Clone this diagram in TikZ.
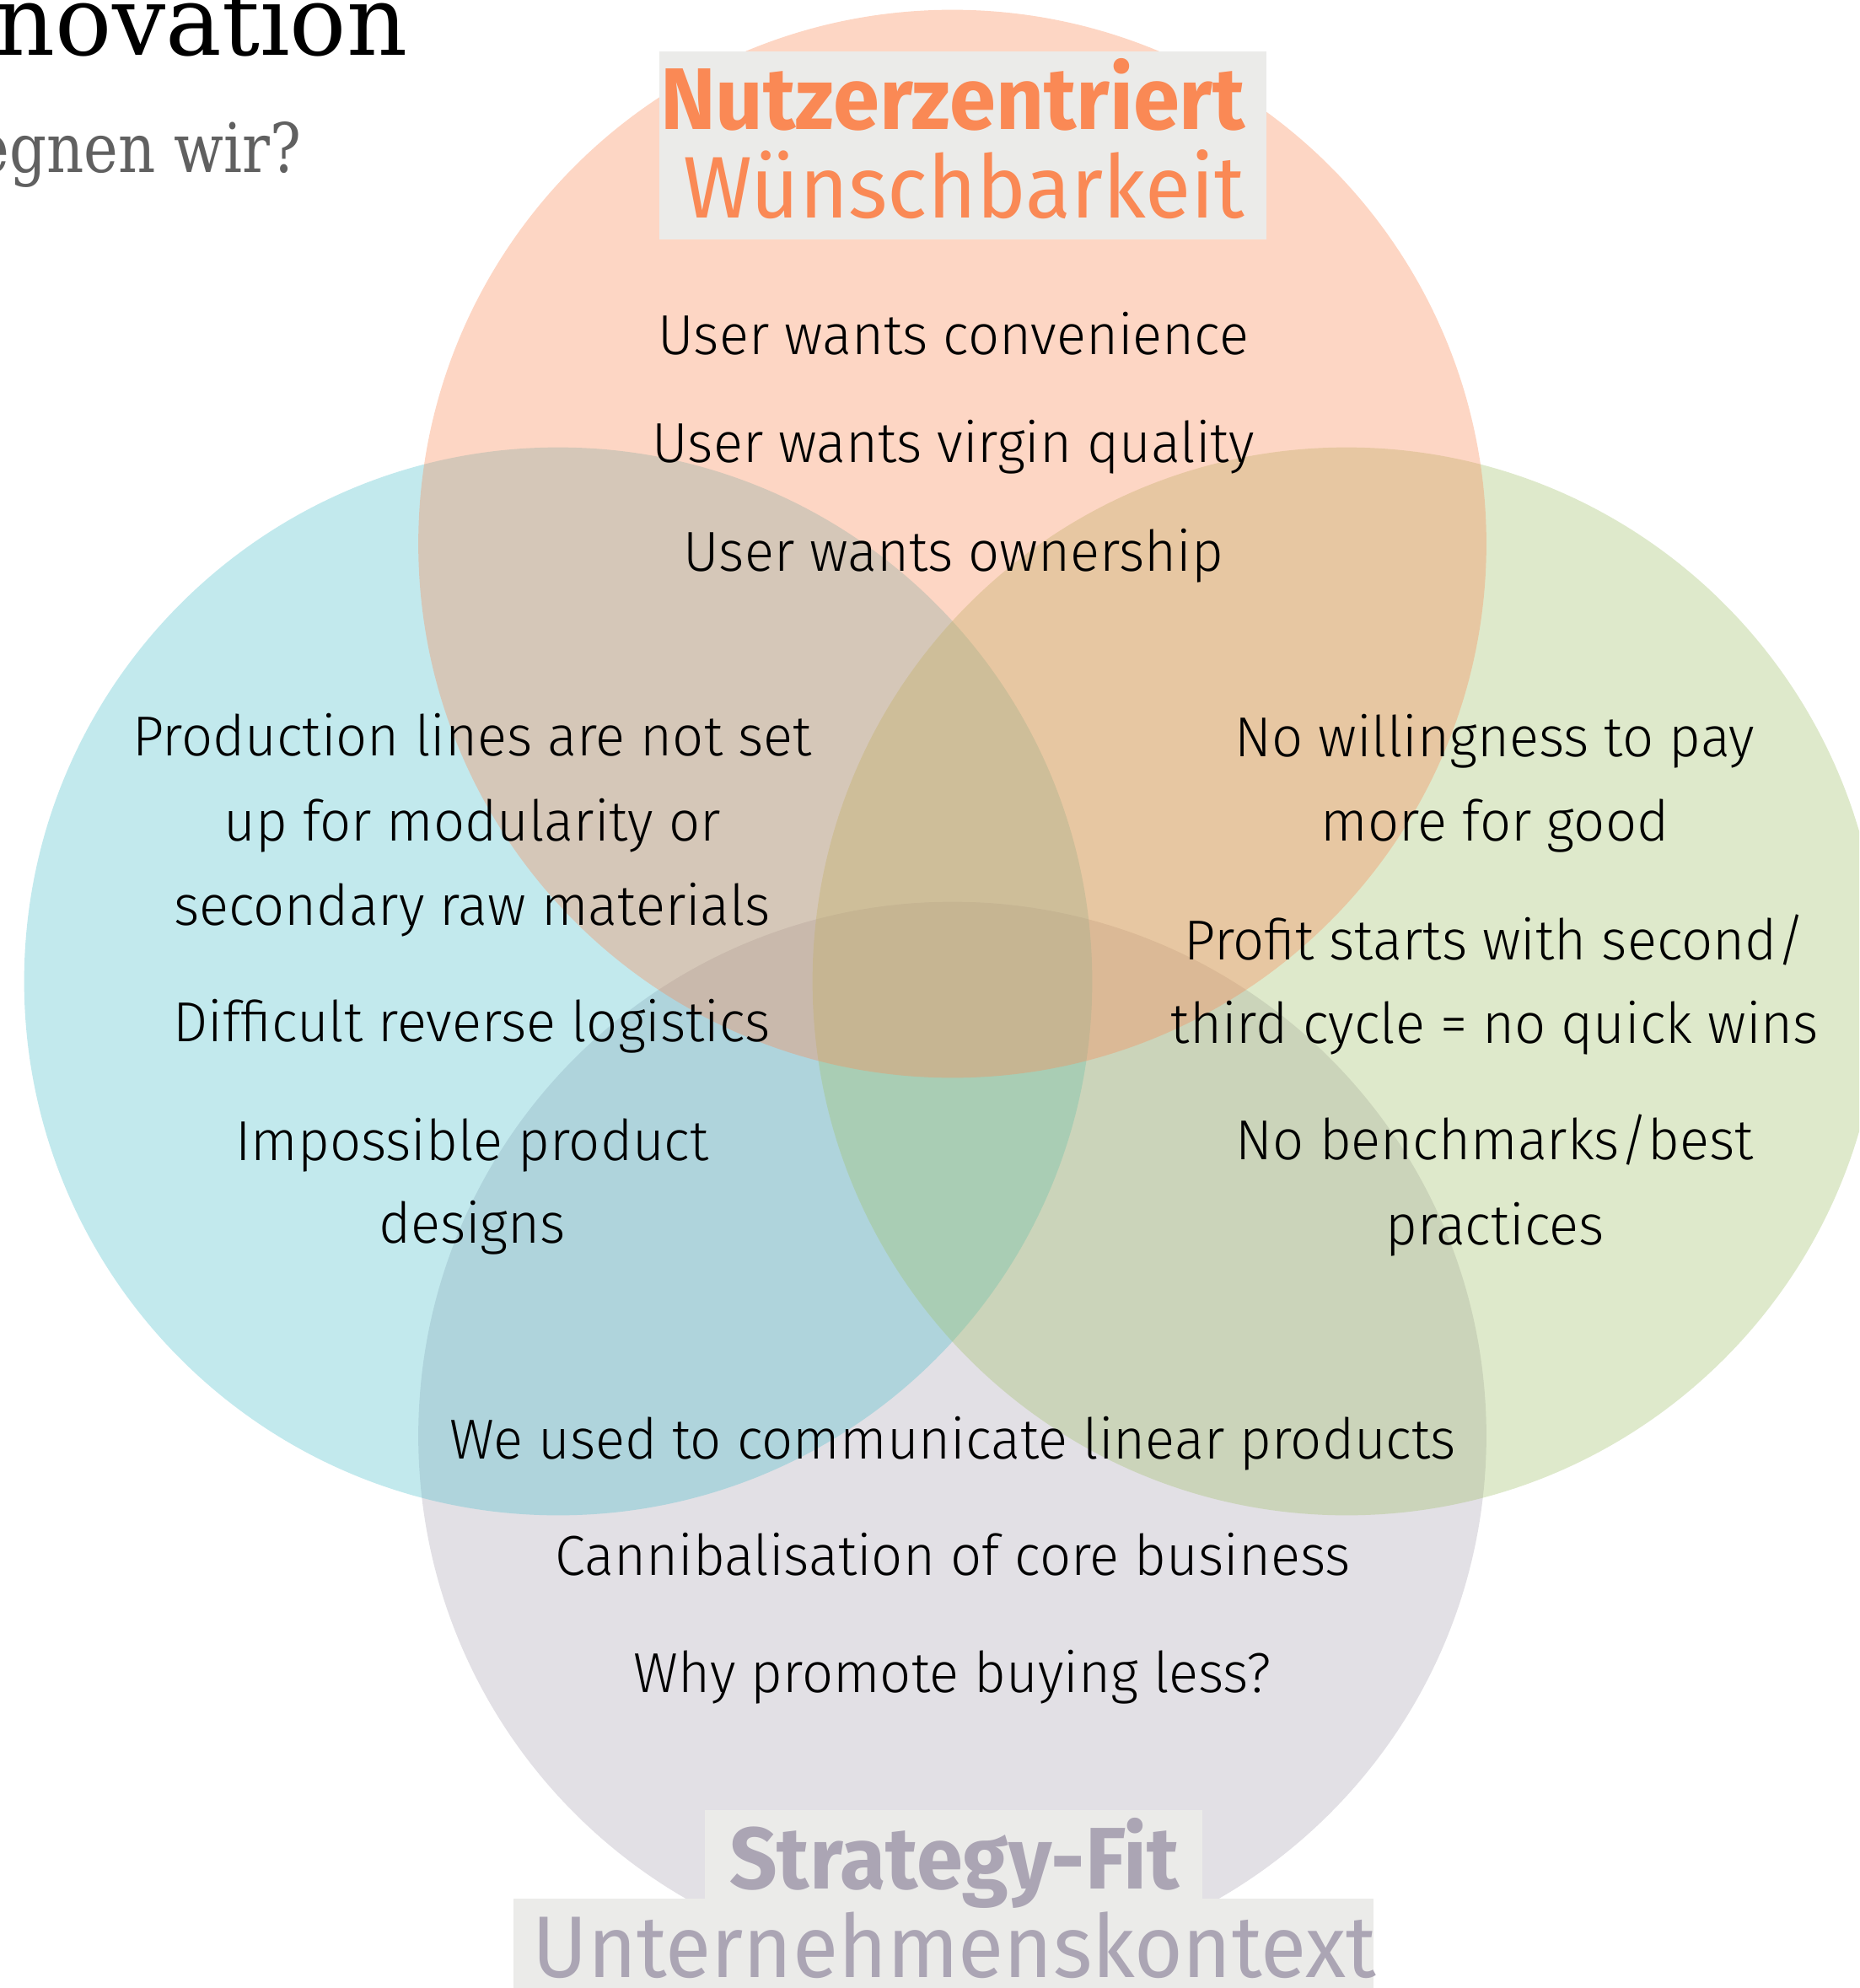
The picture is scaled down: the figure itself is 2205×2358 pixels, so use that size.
\documentclass[tikz,border=0pt]{standalone}
\usepackage{fontspec}
\setmainfont{Fira Sans}[FakeStretch=0.96]
\IfFontExistsTF{Fira Sans Light}
  {\newfontfamily\bodyfont{Fira Sans Light}[FakeStretch=0.975]}
  {\IfFontExistsTF{Lato Light}
    {\newfontfamily\bodyfont{Lato Light}[FakeStretch=0.975]}
    {\newfontfamily\bodyfont{Fira Sans}[FakeStretch=0.975]}}
\newfontfamily\labelfont{Fira Sans}[FakeStretch=0.955]
\newfontfamily\slabfont{DejaVu Serif}[FakeStretch=0.97]
\newfontfamily\subfont{DejaVu Serif}[FakeStretch=0.85]
\definecolor{orangec}{RGB}{250,137,85}
\definecolor{cyanc}{RGB}{81,192,204}
\definecolor{greenc}{RGB}{161,192,106}
\definecolor{greyc}{RGB}{171,165,180}
\definecolor{boxgrey}{RGB}{235,235,233}
\definecolor{subgrey}{RGB}{96,96,96}
\tikzset{
  venn/.style={fill=#1, fill opacity=.35},
  txt/.style={anchor=base, inner sep=0pt, font=\bodyfont\fontsize{19}{19}\selectfont},
  lbl/.style={anchor=base, inner sep=0pt, text=#1, font=\labelfont\fontsize{29.5}{29.5}\selectfont}
}
\begin{document}
\begin{tikzpicture}[x=0.01cm, y=-0.01cm]
\useasboundingbox (0,0) rectangle (2205,2358);
\clip (0,0) rectangle (2205,2358);

% the four circles
\fill[venn=greyc] (1129.5,1703) circle [radius=6.33cm];
\fill[venn=cyanc] (662,1164) circle [radius=6.33cm];
\fill[venn=greenc] (1597,1164) circle [radius=6.33cm];
\fill[venn=orangec] (1129.5,645) circle [radius=6.33cm];

% title, cut at the page edge
\node (title) at (484,66)[anchor=base east, inner sep=0pt, font=\slabfont\fontsize{32.8}{33}\selectfont]{novation};
\node (subtitle) at (358,205)[anchor=base east, inner sep=0pt, text=subgrey, font=\subfont\fontsize{23}{23}\selectfont]{egnen wir?};

% label boxes
\fill[boxgrey] (782,61) rectangle (1502,284);
\fill[boxgrey] (836,2147) rectangle (1426,2252);
\fill[boxgrey] (609,2252) rectangle (1629,2358);
\node (nutzer) at (1130,154)[lbl=orangec]{\bfseries Nutzerzentriert};
\node (wunsch) at (1143,259)[lbl=orangec]{Wünschbarkeit};
\node (strat) at (1132,2240)[lbl=greyc]{\bfseries Strategy-Fit};
\node (kontext) at (1132,2345)[lbl=greyc]{Unternehmenskontext};

% top
\node (conv) at (1131,421)[txt]{User wants convenience};
\node (virgin) at (1131,548)[txt]{User wants virgin quality};
\node (owner) at (1131,677)[txt]{User wants ownership};

% left
\node (prodA) at (560,896)[txt]{Production lines are not set};
\node (prodB) at (560,997)[txt]{up for modularity or};
\node (prodC) at (560,1097)[txt]{secondary raw materials};
\node (logist) at (560,1235)[txt]{Difficult reverse logistics};
\node (designA) at (560,1376)[txt]{Impossible product};
\node (designB) at (560,1474)[txt]{designs};

% right
\node (payA) at (1773,897)[txt]{No willingness to pay};
\node (payB) at (1773,997)[txt]{more for good};
\node (profitA) at (1773,1138)[txt]{Profit starts with second/};
\node (profitB) at (1773,1237)[txt]{third cycle = no quick wins};
\node (benchA) at (1773,1375)[txt]{No benchmarks/best};
\node (benchB) at (1773,1476)[txt]{practices};

% bottom
\node (comm) at (1130,1730)[txt]{We used to communicate linear products};
\node (canni) at (1130,1868)[txt]{Cannibalisation of core business};
\node (why) at (1130,2007)[txt]{Why promote buying less?};
\end{tikzpicture}
\end{document}
